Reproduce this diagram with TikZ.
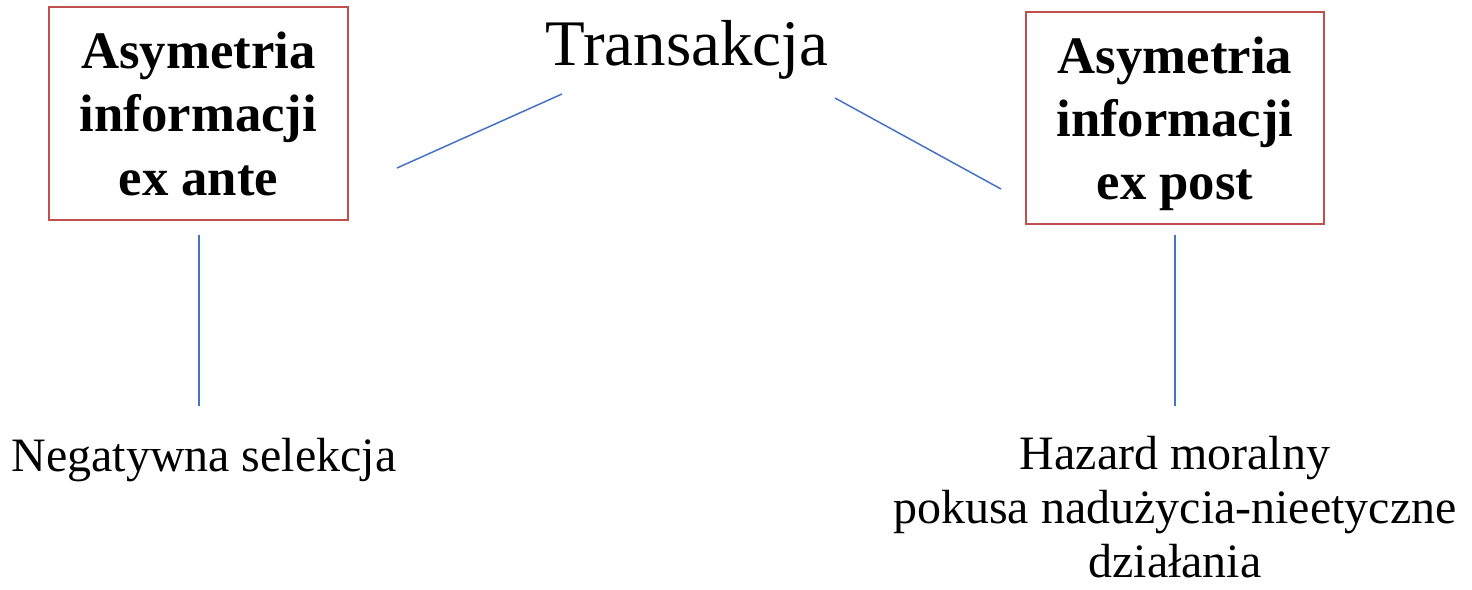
\documentclass[tikz,border=0pt]{standalone}
\usepackage{fontspec}
\setmainfont{Liberation Serif}
\definecolor{boxred}{HTML}{C0504D}
\definecolor{linkblue}{HTML}{4472C4}
\begin{document}
\begin{tikzpicture}[x=0.02cm,y=-0.02cm,
  infobox/.style={draw=boxred,line width=1.1pt,align=center,inner sep=0pt,
    text depth=0pt,font=\fontsize{30}{36}\selectfont\bfseries},
  link/.style={draw=linkblue,line width=0.85pt},
  effect/.style={align=center,inner sep=0pt,text depth=0pt,
    font=\fontsize{27.3}{30.6}\selectfont}]
\useasboundingbox (0,0) rectangle (1472,589);

% title
\node[anchor=base,inner sep=0pt,font=\fontsize{37}{44}\selectfont] (tr) at (687,65) {Transakcja};

% the two kinds of information asymmetry
\node[infobox,minimum width=299*0.02cm,minimum height=213*0.02cm] (ante) at (198.5,113.5)
  {Asymetria\\informacji\\ex ante};
\node[infobox,minimum width=298*0.02cm,minimum height=212*0.02cm] (post) at (1175,118)
  {Asymetria\\informacji\\ex post};

% consequences (base = baseline of the last line)
\node[effect,anchor=base] (neg) at (204,471) {Negatywna selekcja};
\node[effect,anchor=base] (haz) at (1175,577)
  {Hazard moralny\\pokusa nadużycia-nieetyczne\\działania};

% connector ends
\coordinate (ta) at (562,94);
\coordinate (ab) at (397,168);
\coordinate (tp) at (835,98);
\coordinate (pb) at (1001,189);
\coordinate (a1) at (199,235);
\coordinate (a2) at (199,406);
\coordinate (p1) at (1175,235);
\coordinate (p2) at (1175,406);

\draw[link] (ta) -- (ab);
\draw[link] (tp) -- (pb);
\draw[link] (a1) -- (a2);
\draw[link] (p1) -- (p2);
\end{tikzpicture}
\end{document}
